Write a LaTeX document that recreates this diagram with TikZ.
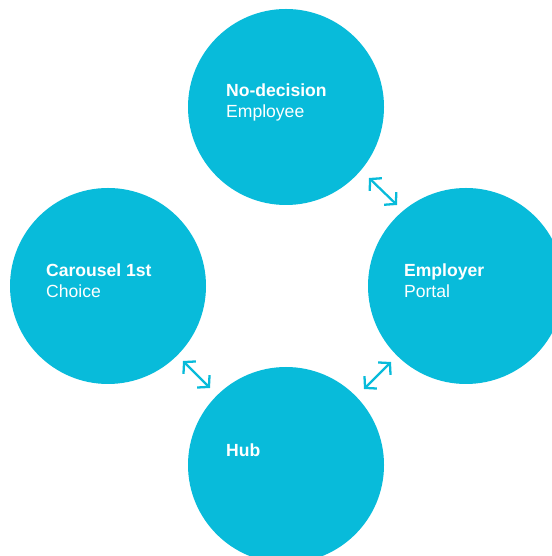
\documentclass[tikz,border=0pt]{standalone}
\usepackage{fontspec}
\setmainfont{Liberation Sans}
\usetikzlibrary{arrows.meta}
\definecolor{bubble}{RGB}{8,187,218}
\begin{document}
\begin{tikzpicture}[line width=1.3pt,draw=bubble]
	\tikzset{
		disc/.style = {circle, fill = bubble, minimum size = 3.92cm, inner sep = 0pt},
		caption/.style = {anchor = base west, align = left, inner sep = 0pt, text = white, font = \fontsize{10}{12}\selectfont},
		link/.style = {{Straight Barb[length=4.5pt,width=10pt]}-{Straight Barb[length=4.5pt,width=10pt]}}
	}
	\clip (0,0) rectangle (11.04,11.12);
	\node (ND) at (5.72, 8.98)	[disc]	{};
	\node (CC) at (2.16, 5.40)	[disc]	{};
	\node (EP) at (9.32, 5.40)	[disc]	{};
	\node (HB) at (5.72, 1.82)	[disc]	{};
	\node (NDt) at ([xshift=-1.22cm, yshift=-0.22cm]ND.center)	[caption]	{\textbf{No-decision}\\Employee};
	\node (CCt) at ([xshift=-1.26cm, yshift=-0.24cm]CC.center)	[caption]	{\textbf{Carousel 1st}\\Choice};
	\node (EPt) at ([xshift=-1.26cm, yshift=-0.24cm]EP.center)	[caption]	{\textbf{Employer}\\Portal};
	\node (HBt) at ([xshift=-1.22cm, yshift=0.16cm]HB.center)	[caption]	{\textbf{Hub}};
	\coordinate (A1) at (7.38, 7.56);
	\coordinate (A2) at (7.94, 7.02);
	\coordinate (B1) at (7.28, 3.34);
	\coordinate (B2) at (7.82, 3.88);
	\coordinate (C1) at (3.66, 3.90);
	\coordinate (C2) at (4.20, 3.36);
	\draw[link] (A1) -- (A2);
	\draw[link] (B1) -- (B2);
	\draw[link] (C1) -- (C2);
\end{tikzpicture}
\end{document}
